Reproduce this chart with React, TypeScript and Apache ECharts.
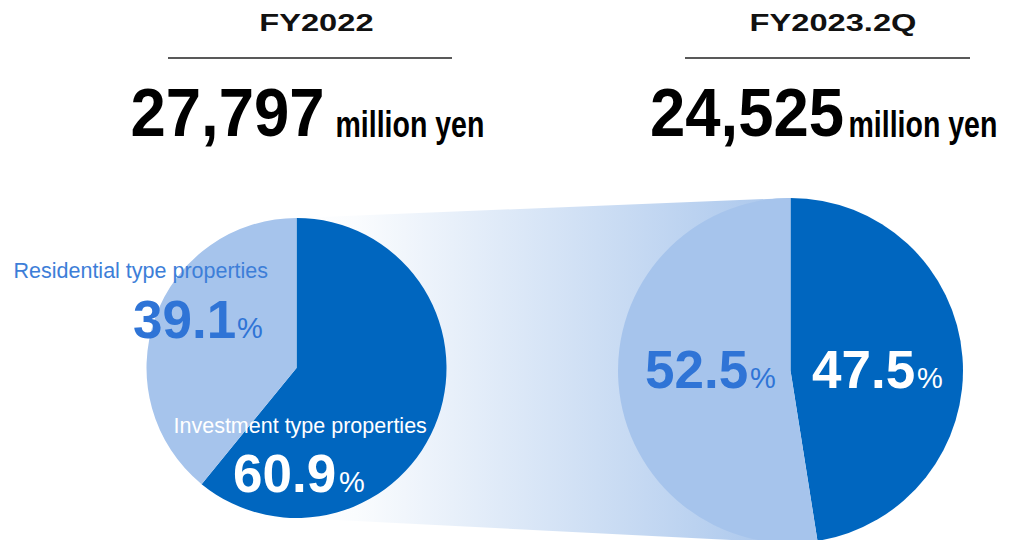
import React, { useEffect, useRef } from "react";
import * as echarts from "echarts";

const periods = ["FY2022", "FY2023.2Q"];
const totals = [27797, 24525];
const unitLabel = "million yen";
const categories = ["Investment type properties", "Residential type properties"];
const shares2022 = [60.9, 39.1];
const shares2023 = [47.5, 52.5];

const DARK = "#0066BF";
const LIGHT = "#A6C4EC";
const BLUE_TEXT = "#2F74D6";
const FONT = '"Liberation Sans", Arial, sans-serif';

function txt(
  text: string,
  x: number,
  y: number,
  size: number,
  weight: string,
  fill: string,
  scaleX = 1
) {
  return {
    type: "text",
    x,
    y,
    scaleX,
    z: 100,
    silent: true,
    style: {
      text,
      fontSize: size,
      fontWeight: weight,
      fontFamily: FONT,
      fill,
      align: "left",
      verticalAlign: "middle",
    },
  };
}

export default function App() {
  const ref = useRef<HTMLDivElement>(null);
  useEffect(() => {
    if (!ref.current) return;
    const chart = echarts.init(ref.current, null, { renderer: "svg" });
    const fmt = (v: number) => v.toLocaleString("en-US");
    const pieData = (shares: number[]) => [
      { value: shares[0], name: categories[0], itemStyle: { color: DARK } },
      { value: shares[1], name: categories[1], itemStyle: { color: LIGHT } },
    ];
    const option = {
      animation: false,
      graphic: [
        {
          type: "polygon",
          z: 0,
          silent: true,
          shape: {
            points: [
              [296.5, 218],
              [790.5, 198],
              [790.5, 543],
              [296.5, 518],
            ],
          },
          style: {
            fill: new echarts.graphic.LinearGradient(0, 0, 1, 0, [
              { offset: 0, color: "#FFFFFF" },
              { offset: 0.12, color: "#FAFCFE" },
              { offset: 1, color: "#A9C6EC" },
            ]),
          },
        },
        txt(periods[0], 259.3, 22.5, 24, "bold", "#111", 1.36),
        txt(periods[1], 749.6, 22.5, 24, "bold", "#111", 1.36),
        {
          type: "line",
          z: 100,
          silent: true,
          shape: { x1: 168, y1: 58, x2: 452, y2: 58 },
          style: { stroke: "#222", lineWidth: 1.5 },
        },
        {
          type: "line",
          z: 100,
          silent: true,
          shape: { x1: 685, y1: 58, x2: 970, y2: 58 },
          style: { stroke: "#222", lineWidth: 1.5 },
        },
        txt(fmt(totals[0]), 130.5, 112.5, 68, "bold", "#000", 0.933),
        txt(unitLabel, 335.5, 124.5, 37, "bold", "#000", 0.77),
        txt(fmt(totals[1]), 650, 112.5, 68, "bold", "#000", 0.933),
        txt(unitLabel, 848.5, 124.5, 37, "bold", "#000", 0.77),

        txt(categories[1], 13.5, 271, 21.5, "normal", "#3D7ED8"),
        txt(shares2022[1].toFixed(1), 133, 319, 53, "bold", BLUE_TEXT),
        txt("%", 237, 328, 29, "normal", BLUE_TEXT),

        txt(categories[0], 173.5, 425.5, 21.5, "normal", "#FFFFFF"),
        txt(shares2022[0].toFixed(1), 233, 473.6, 53, "bold", "#FFFFFF"),
        txt("%", 339, 482, 29, "normal", "#FFFFFF"),

        txt(shares2023[1].toFixed(1), 645, 369.6, 53, "bold", BLUE_TEXT),
        txt("%", 750, 378, 29, "normal", BLUE_TEXT),
        txt(shares2023[0].toFixed(1), 812, 369.6, 53, "bold", "#FFFFFF"),
        txt("%", 917, 378, 29, "normal", "#FFFFFF"),
      ],
      series: [
        {
          type: "pie",
          silent: true,
          center: [296.5, 368],
          radius: [0, 150],
          startAngle: 90,
          clockwise: true,
          label: { show: false },
          labelLine: { show: false },
          itemStyle: { borderWidth: 0 },
          data: pieData(shares2022),
        },
        {
          type: "pie",
          silent: true,
          center: [790.5, 370.5],
          radius: [0, 172.5],
          startAngle: 90,
          clockwise: true,
          label: { show: false },
          labelLine: { show: false },
          itemStyle: { borderWidth: 0 },
          data: pieData(shares2023),
        },
      ],
    };
    chart.setOption(option as any);
    return () => {
      chart.dispose();
    };
  }, []);
  return (
    <div
      ref={ref}
      style={{ position: "absolute", left: 0, top: 0, width: 1010, height: 540, background: "#fff" }}
    />
  );
}
